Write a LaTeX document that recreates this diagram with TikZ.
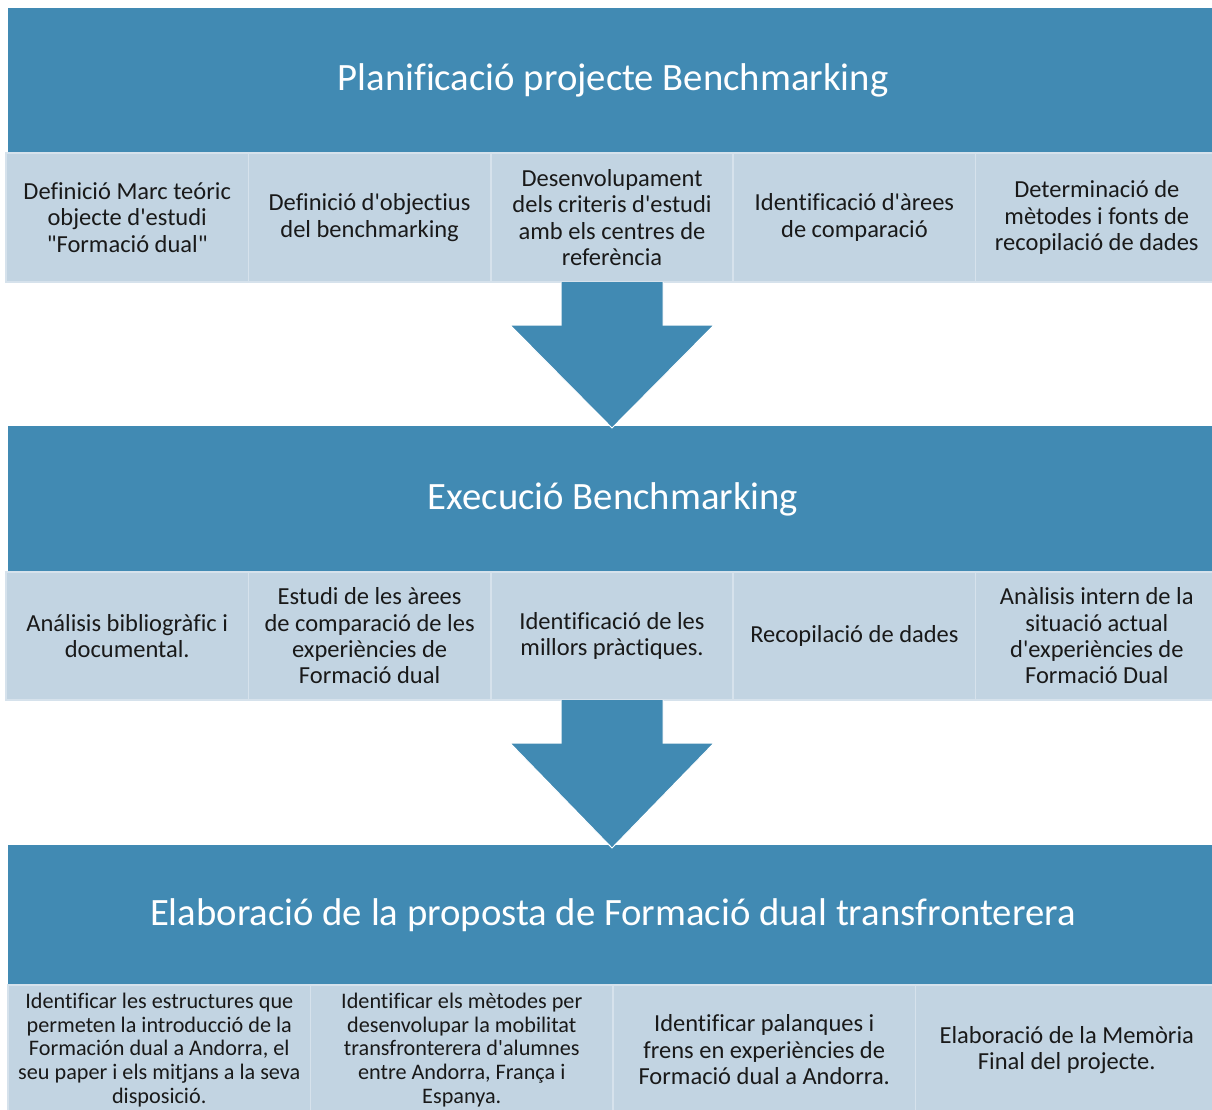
\documentclass[tikz,border=0pt]{standalone}
\usepackage{fontspec}
\setmainfont{Carlito}[Ligatures={TeXOff,NoCommon}]
\usepackage{tikz}
\usetikzlibrary{calc}
\definecolor{hdrblue}{RGB}{65,138,179}
\definecolor{boxblue}{RGB}{194,212,226}
\definecolor{boxline}{RGB}{214,226,236}
\definecolor{boxtext}{RGB}{25,25,25}

\begin{document}
\begin{tikzpicture}[x=1pt,y=-1pt,
	header/.style={fill=hdrblue,draw=none,anchor=north west,minimum width=1210pt,inner sep=0pt,outer sep=0pt,text=white,font=\fontsize{38.7}{46}\selectfont},
	subbox/.style={fill=boxblue,draw=boxline,line width=1.5pt,anchor=north west,minimum width=242.4pt,minimum height=129pt,inner sep=0pt,outer sep=0pt,align=center,text=boxtext,font=\fontsize{24.5}{26.3}\selectfont},
	smallbox/.style={subbox,minimum width=302.5pt,minimum height=130pt,font=\fontsize{22.2}{23.6}\selectfont},
	blockarrow/.style={fill=hdrblue,draw=white,line width=1pt,line join=miter}]
	\useasboundingbox (0,0) rectangle (1212,1109);

	%planificacio
	\node[header,minimum height=145pt] (plan) at (8,8) {Planificació projecte Benchmarking};
	\node[subbox] (plan1) at (6,153) {Definició Marc teóric\\objecte d'estudi\\"Formació dual"};
	\node[subbox] (plan2) at (248.4,153) {Definició d'objectius\\del benchmarking};
	\node[subbox] (plan3) at (490.8,153) {Desenvolupament\\dels criteris d'estudi\\amb els centres de\\referència};
	\node[subbox] (plan4) at (733.2,153) {Identificació d'àrees\\de comparació};
	\node[subbox] (plan5) at (975.6,153) {Determinació de\\mètodes i fonts de\\recopilació de dades};

	%execucio
	\node[header,minimum height=146pt] (exec) at (8,426) {Execució Benchmarking};
	\node[subbox,minimum height=128pt] (exec1) at (6,572) {Análisis bibliogràfic i\\documental.};
	\node[subbox,minimum height=128pt] (exec2) at (248.4,572) {Estudi de les àrees\\de comparació de les\\experiències de\\Formació dual};
	\node[subbox,minimum height=128pt] (exec3) at (490.8,572) {Identificació de les\\millors pràctiques.};
	\node[subbox,minimum height=128pt] (exec4) at (733.2,572) {Recopilació de dades};
	\node[subbox,minimum height=128pt] (exec5) at (975.6,572) {Anàlisis intern de la\\situació actual\\d'experiències de\\Formació Dual};

	%elaboracio
	\node[header,minimum height=140pt] (elab) at (8,845) {Elaboració de la proposta de Formació dual transfronterera};
	\node[smallbox] (elab1) at (8,985) {Identificar les estructures que\\permeten la introducció de la\\Formación dual a Andorra, el\\seu paper i els mitjans a la seva\\disposició.};
	\node[smallbox] (elab2) at (310.5,985) {Identificar els mètodes per\\desenvolupar la mobilitat\\transfronterera d'alumnes\\entre Andorra, França i\\Espanya.};
	\node[smallbox,font=\fontsize{24.5}{26.5}\selectfont] (elab3) at (613,985) {Identificar palanques i\\frens en experiències de\\Formació dual a Andorra.};
	\node[smallbox,font=\fontsize{24.5}{26.5}\selectfont] (elab4) at (915.5,985) {Elaboració de la Memòria\\Final del projecte.};

	%arrows
	\draw[blockarrow] ($(plan3.south)+(-51,0)$) -- ++(0,43) -- ++(-51,0) -- ($(plan3.south |- exec.north)+(0,2)$) -- ($(plan3.south)+(102,43)$) -- ++(-51,0) -- ++(0,-43);
	\draw[blockarrow] ($(exec3.south)+(-51,0)$) -- ++(0,43) -- ++(-51,0) -- ($(exec3.south |- elab.north)+(0,3)$) -- ($(exec3.south)+(102,43)$) -- ++(-51,0) -- ++(0,-43);
\end{tikzpicture}
\end{document}
